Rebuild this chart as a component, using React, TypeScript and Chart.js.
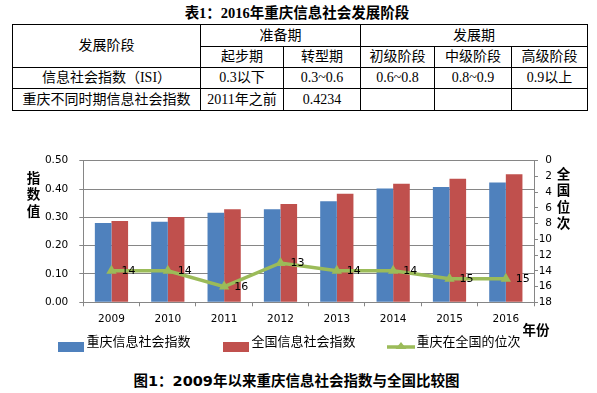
import React, { useEffect, useRef } from 'react';
import { Chart, registerables } from 'chart.js';

Chart.register(...registerables);

// ---- data ----
const years = ['2009', '2010', '2011', '2012', '2013', '2014', '2015', '2016'];
const cqIndex = [0.280, 0.284, 0.316, 0.329, 0.357, 0.402, 0.407, 0.4234];
const cnIndex = [0.287, 0.301, 0.329, 0.347, 0.383, 0.419, 0.436, 0.4523];
const cqRank = [14, 14, 16, 13, 14, 14, 15, 15];
const seriesNames = ['重庆信息社会指数', '全国信息社会指数', '重庆在全国的位次'];
const leftTitle = ['指', '数', '值'];
const rightTitle = ['全', '国', '位', '次'];
const xTitle = '年份';

const tableTitle = '表1：2016年重庆信息社会发展阶段';
const caption = '图1：2009年以来重庆信息社会指数与全国比较图';
const stageHeader = '发展阶段';
const prepLabel = '准备期';
const devLabel = '发展期';
const stageNames = ['起步期', '转型期', '初级阶段', '中级阶段', '高级阶段'];
const isiRowLabel = '信息社会指数（ISI）';
const isiRanges = ['0.3以下', '0.3~0.6', '0.6~0.8', '0.8~0.9', '0.9以上'];
const cqRowLabel = '重庆不同时期信息社会指数';
const cqStages = ['2011年之前', '0.4234', '', '', ''];

const BLUE = '#4F81BD';
const RED = '#C0504D';
const GREEN = '#9BBB59';
const GRID = '#868686';

const CANVAS_TOP = 140;
const CANVAS_W = 597;
const CANVAS_H = 230;

function makeBoxImg(color: string) {
  const c = document.createElement('canvas');
  c.width = 34;
  c.height = 20;
  const g = c.getContext('2d')!;
  g.fillStyle = color;
  g.fillRect(7, 9, 26, 10);
  return c;
}

function makeLineImg(color: string) {
  const c = document.createElement('canvas');
  c.width = 34;
  c.height = 20;
  const g = c.getContext('2d')!;
  g.strokeStyle = color;
  g.lineWidth = 3.5;
  g.beginPath();
  g.moveTo(6, 14);
  g.lineTo(34, 14);
  g.stroke();
  g.fillStyle = color;
  g.beginPath();
  g.moveTo(20, 9);
  g.lineTo(25.5, 16);
  g.lineTo(14.5, 16);
  g.closePath();
  g.fill();
  return c;
}

function ChartBlock() {
  const ref = useRef<HTMLCanvasElement | null>(null);
  useEffect(() => {
    if (!ref.current) return;
    const imgs = [makeBoxImg(BLUE), makeBoxImg(RED), makeLineImg(GREEN)];
    const fam = "'DejaVu Sans', 'Noto Sans CJK SC', sans-serif";
    Chart.defaults.font.family = fam;
    Chart.defaults.color = '#000';

    const legendPlace = {
      id: 'legendPlace',
      afterLayout(chart: any) {
        const lg = chart.legend;
        if (lg) {
          lg.left = 25.5;
          lg.right = CANVAS_W;
          lg.top = 166;
          lg.bottom = CANVAS_H;
        }
      },
    };

    const rankLabels = {
      id: 'rankLabels',
      afterDatasetsDraw(chart: any) {
        const meta = chart.getDatasetMeta(0);
        const ctx = chart.ctx;
        ctx.save();
        ctx.font = "11px 'DejaVu Sans'";
        ctx.fillStyle = '#000';
        ctx.textAlign = 'left';
        ctx.textBaseline = 'middle';
        meta.data.forEach((pt: any, i: number) => {
          ctx.fillText(String(cqRank[i]), pt.x + 10, pt.y + 0.5);
        });
        ctx.restore();
      },
    };

    const axisTitles = {
      id: 'axisTitles',
      afterDraw(chart: any) {
        const ctx = chart.ctx;
        const ca = chart.chartArea;
        ctx.save();
        ctx.font = "bold 13.5px 'Noto Sans CJK SC'";
        ctx.fillStyle = '#000';
        ctx.textAlign = 'center';
        ctx.textBaseline = 'middle';
        leftTitle.forEach((ch, i) => ctx.fillText(ch, 33.5, ca.top + 16.8 + i * 16.7));
        rightTitle.forEach((ch, i) => ctx.fillText(ch, 563.5, ca.top + 13.5 + i * 16.1));
        ctx.fillText(xTitle, 536, ca.bottom + 27.7);
        ctx.restore();
      },
    };

    const chart = new Chart(ref.current, {
      type: 'bar',
      data: {
        labels: years,
        datasets: [
          {
            type: 'line',
            label: seriesNames[2],
            data: cqRank,
            yAxisID: 'y1',
            borderColor: GREEN,
            backgroundColor: GREEN,
            borderWidth: 3.5,
            pointStyle: 'triangle',
            pointRadius: 6,
            pointBorderWidth: 0,
            pointBackgroundColor: GREEN,
            pointBorderColor: GREEN,
            tension: 0,
            order: 0,
          } as any,
          {
            type: 'bar',
            label: seriesNames[0],
            data: cqIndex,
            yAxisID: 'y',
            backgroundColor: BLUE,
            categoryPercentage: 0.59,
            barPercentage: 1,
            order: 1,
          },
          {
            type: 'bar',
            label: seriesNames[1],
            data: cnIndex,
            yAxisID: 'y',
            backgroundColor: RED,
            categoryPercentage: 0.59,
            barPercentage: 1,
            order: 2,
          },
        ],
      },
      options: {
        responsive: false,
        animation: false,
        devicePixelRatio: 1,
        layout: { padding: { left: 0, right: 45, top: 20.7, bottom: CANVAS_H - 162.3 - 30 - 20 } },
        plugins: {
          tooltip: { enabled: false },
          legend: {
            position: 'bottom',
            align: 'start',
            maxHeight: 20,
            labels: {
              usePointStyle: true,
              pointStyleWidth: 24,
              padding: 30.5,
              color: '#000',
              font: { size: 13, family: fam },
              generateLabels: () =>
                seriesNames.map((name, i) => ({
                  text: name,
                  fillStyle: [BLUE, RED, GREEN][i],
                  strokeStyle: [BLUE, RED, GREEN][i],
                  lineWidth: 0,
                  hidden: false,
                  pointStyle: imgs[i],
                  datasetIndex: i,
                })) as any,
            },
          },
        },
        scales: {
          x: {
            offset: true,
            grid: { offset: true, drawOnChartArea: false, color: GRID, tickLength: 4 },
            border: { color: GRID },
            ticks: { font: { size: 10.5 }, padding: 6.4, color: '#000' },
            afterFit: (s: any) => { s.height = 30; },
          },
          y: {
            position: 'left',
            min: 0,
            max: 0.5,
            ticks: {
              stepSize: 0.1,
              font: { size: 10.5 },
              padding: 11,
              color: '#000',
              callback: (v: any) => Number(v).toFixed(2),
            },
            grid: { color: GRID, tickLength: 4 },
            border: { color: GRID },
            afterFit: (s: any) => { s.width = 83.3; },
          },
          y1: {
            position: 'right',
            min: 0,
            max: 18,
            reverse: true,
            ticks: { stepSize: 2, font: { size: 10.5 }, crossAlign: 'far', color: '#000' },
            grid: { drawOnChartArea: false, color: GRID, tickLength: 4 },
            border: { color: GRID },
            afterFit: (s: any) => { s.width = 18; },
          },
        },
      } as any,
      plugins: [legendPlace, rankLabels, axisTitles],
    });
    return () => chart.destroy();
  }, []);
  return (
    <canvas
      ref={ref}
      width={CANVAS_W}
      height={CANVAS_H}
      style={{ position: 'absolute', left: 0, top: CANVAS_TOP, width: CANVAS_W, height: CANVAS_H }}
    />
  );
}

const cell: React.CSSProperties = {
  border: '1px solid #000',
  padding: 0,
  textAlign: 'center',
  verticalAlign: 'middle',
  whiteSpace: 'nowrap',
  lineHeight: '18px',
};

export default function App() {
  const colW = [188, 83, 77, 74, 77, 76];
  return (
    <div
      style={{
        position: 'absolute',
        left: 0,
        top: 0,
        width: 597,
        height: 393,
        background: '#fff',
        overflow: 'hidden',
      }}
    >
      <div
        style={{
          position: 'absolute',
          left: 0,
          top: 4,
          width: 594,
          textAlign: 'center',
          fontFamily: "'Liberation Serif', 'Noto Sans CJK SC'",
          fontWeight: 'bold',
          fontSize: 14.5,
          lineHeight: '18px',
          color: '#000',
        }}
      >
        {tableTitle}
      </div>
      <table
        style={{
          position: 'absolute',
          left: 12,
          top: 24,
          width: 575,
          borderCollapse: 'collapse',
          tableLayout: 'fixed',
          fontFamily: "'Liberation Serif', 'Noto Sans CJK SC'",
          fontSize: 14,
          color: '#000',
        }}
      >
        <colgroup>
          {colW.map((w, i) => (
            <col key={i} style={{ width: w }} />
          ))}
        </colgroup>
        <tbody>
          <tr style={{ height: 22 }}>
            <td style={cell} rowSpan={2}>{stageHeader}</td>
            <td style={cell} colSpan={2}>{prepLabel}</td>
            <td style={cell} colSpan={3}>{devLabel}</td>
          </tr>
          <tr style={{ height: 21 }}>
            {stageNames.map((s, i) => (
              <td key={i} style={cell}>{s}</td>
            ))}
          </tr>
          <tr style={{ height: 21 }}>
            <td style={cell}>{isiRowLabel}</td>
            {isiRanges.map((s, i) => (
              <td key={i} style={cell}>{s}</td>
            ))}
          </tr>
          <tr style={{ height: 22 }}>
            <td style={cell}>{cqRowLabel}</td>
            {cqStages.map((s, i) => (
              <td key={i} style={cell}>{s}</td>
            ))}
          </tr>
        </tbody>
      </table>
      <ChartBlock />
      <div
        style={{
          position: 'absolute',
          left: 0,
          top: 372,
          width: 593,
          textAlign: 'center',
          fontFamily: "'DejaVu Sans', 'Noto Sans CJK SC'",
          fontWeight: 'bold',
          fontSize: 14.5,
          lineHeight: '18px',
          color: '#000',
        }}
      >
        {caption}
      </div>
    </div>
  );
}
